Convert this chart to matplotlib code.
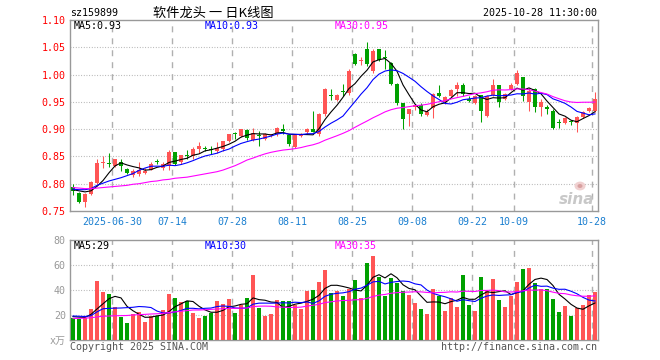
import matplotlib
matplotlib.use('Agg')
import matplotlib.pyplot as plt
from matplotlib.patches import Ellipse
import numpy as np
import pandas as pd

# ---------------- data ----------------
opens = [0.794, 0.783, 0.766, 0.782, 0.802, 0.838, 0.838, 0.833, 0.839, 0.827,
         0.816, 0.818, 0.820, 0.826, 0.841, 0.829, 0.833, 0.858, 0.839, 0.852,
         0.851, 0.863, 0.865, 0.863, 0.860, 0.863, 0.879, 0.892, 0.888, 0.898,
         0.880, 0.889, 0.882, 0.889, 0.892, 0.901, 0.889, 0.868, 0.888, 0.894,
         0.900, 0.891, 0.927, 0.963, 0.954, 0.969, 0.966, 1.038, 1.024, 1.047,
         1.007, 1.047, 1.033, 1.022, 0.982, 0.947, 0.927, 0.941, 0.945, 0.926,
         0.938, 0.967, 0.950, 0.960, 0.974, 0.980, 0.956, 0.948, 0.962, 0.925,
         0.962, 0.980, 0.956, 0.974, 0.982, 0.996, 0.949, 0.974, 0.940, 0.941,
         0.934, 0.912, 0.911, 0.914, 0.911, 0.922, 0.934, 0.934]
closes = [0.786, 0.766, 0.782, 0.804, 0.838, 0.839, 0.837, 0.845, 0.832, 0.819,
          0.824, 0.825, 0.824, 0.837, 0.840, 0.836, 0.858, 0.836, 0.852, 0.851,
          0.864, 0.870, 0.864, 0.862, 0.866, 0.879, 0.891, 0.891, 0.900, 0.884,
          0.893, 0.888, 0.891, 0.890, 0.903, 0.897, 0.872, 0.889, 0.891, 0.901,
          0.895, 0.927, 0.974, 0.960, 0.963, 0.968, 1.007, 1.019, 1.027, 1.019,
          1.044, 1.027, 1.030, 0.982, 0.948, 0.918, 0.937, 0.945, 0.928, 0.931,
          0.964, 0.960, 0.958, 0.972, 0.980, 0.964, 0.952, 0.961, 0.934, 0.961,
          0.980, 0.949, 0.964, 0.980, 1.003, 0.961, 0.970, 0.940, 0.950, 0.936,
          0.902, 0.911, 0.920, 0.913, 0.922, 0.931, 0.938, 0.956]
highs = [0.800, 0.784, 0.783, 0.805, 0.845, 0.851, 0.856, 0.846, 0.845, 0.828,
         0.827, 0.839, 0.828, 0.839, 0.845, 0.839, 0.862, 0.858, 0.852, 0.862,
         0.868, 0.876, 0.869, 0.869, 0.876, 0.879, 0.892, 0.895, 0.900, 0.901,
         0.903, 0.897, 0.893, 0.892, 0.904, 0.909, 0.891, 0.890, 0.893, 0.903,
         0.933, 0.929, 0.976, 0.974, 0.965, 0.983, 1.010, 1.040, 1.032, 1.059,
         1.047, 1.047, 1.045, 1.023, 0.985, 0.948, 0.937, 0.946, 0.948, 0.937,
         0.967, 0.980, 0.961, 0.973, 0.987, 0.985, 0.960, 0.962, 0.963, 0.962,
         0.991, 0.980, 0.966, 0.984, 1.009, 0.996, 0.976, 0.976, 0.955, 0.944,
         0.937, 0.919, 0.922, 0.917, 0.924, 0.933, 0.940, 0.968]
lows = [0.779, 0.765, 0.757, 0.780, 0.800, 0.829, 0.830, 0.830, 0.823, 0.818,
        0.813, 0.815, 0.817, 0.825, 0.836, 0.825, 0.825, 0.834, 0.836, 0.845,
        0.845, 0.857, 0.860, 0.855, 0.857, 0.860, 0.876, 0.882, 0.885, 0.881,
        0.879, 0.869, 0.880, 0.886, 0.888, 0.891, 0.869, 0.866, 0.886, 0.891,
        0.894, 0.888, 0.924, 0.953, 0.952, 0.961, 0.963, 1.017, 1.018, 1.016,
        1.003, 1.025, 1.010, 0.980, 0.945, 0.901, 0.905, 0.935, 0.925, 0.925,
        0.920, 0.958, 0.946, 0.958, 0.961, 0.960, 0.949, 0.946, 0.913, 0.922,
        0.960, 0.940, 0.953, 0.971, 0.980, 0.952, 0.934, 0.931, 0.925, 0.928,
        0.901, 0.902, 0.909, 0.908, 0.895, 0.920, 0.931, 0.931]
volumes = [18.0, 16.5, 17.3, 24.8, 47.5, 38.7, 36.8, 26.7, 18.7, 13.9,
           20.8, 22.7, 14.7, 19.2, 19.2, 24.0, 36.8, 33.9, 30.7, 31.2,
           21.3, 18.0, 19.2, 21.3, 31.2, 28.8, 32.8, 21.9, 28.0, 33.6,
           52.0, 26.0, 19.5, 20.8, 32.0, 31.2, 31.2, 28.0, 25.0, 39.0,
           40.0, 46.4, 56.0, 37.3, 39.2, 35.2, 40.5, 48.0, 33.3, 61.9,
           67.2, 50.7, 35.2, 49.9, 45.9, 39.2, 36.0, 29.9, 24.8, 20.8,
           40.8, 35.5, 23.2, 33.3, 26.4, 52.0, 28.0, 23.2, 50.4, 39.2,
           48.8, 32.0, 26.4, 35.5, 46.4, 56.8, 57.6, 45.9, 40.8, 40.8,
           32.8, 22.4, 27.2, 19.5, 25.9, 28.0, 36.0, 38.7]
# moving-average values at the start of the window (their history lies
# before the first visible day)
ma5_head = [0.789, 0.787, 0.785, 0.787]
ma10_head = [0.790, 0.789, 0.789, 0.791, 0.797, 0.801, 0.805, 0.808, 0.811]
ma30_head = [0.793, 0.792, 0.791, 0.791, 0.792, 0.793, 0.794, 0.795, 0.796,
             0.797, 0.799, 0.800, 0.802, 0.804, 0.805, 0.807, 0.808, 0.810,
             0.811, 0.812, 0.814, 0.816, 0.818, 0.820, 0.822, 0.825, 0.829,
             0.833, 0.838]
vma5_head = [18.7, 18.3, 18.0, 20.5]
vma10_head = [19.2, 19.0, 18.8, 19.5, 22.5, 25.0, 25.3, 25.5, 25.6]
vma30_head = [17.3, 17.3, 17.5, 17.8, 18.5, 19.0, 19.2, 19.4, 19.5, 19.6,
              20.0, 20.3, 20.5, 20.8, 21.0, 21.3, 22.0, 22.5, 23.0, 23.5,
              24.0, 24.0, 24.2, 24.5, 24.8, 25.0, 25.3, 25.3, 25.5]
tick_idx = [7, 17, 27, 37, 47, 57, 67, 74, 87]
tick_labels = ['2025-06-30', '07-14', '07-28', '08-11', '08-25',
               '09-08', '09-22', '10-09', '10-28']
price_ticks = [0.75, 0.80, 0.85, 0.90, 0.95, 1.00, 1.05, 1.10]
vol_ticks = [20, 40, 60, 80]

# ---------------- style ----------------
RED = '#ff5555'
GREEN = '#00a000'
GRID = '#b0b0b0'
SPINE = '#999999'
MONO = 'DejaVu Sans Mono'
FS = 7.2
W, H = 660, 360

o = np.array(opens); c = np.array(closes)
hi = np.array(highs); lo = np.array(lows); v = np.array(volumes)
x = np.arange(len(o))
up = c >= o
cols = np.where(up, RED, GREEN)


def moving(series, n, head):
    m = pd.Series(series).rolling(n).mean().to_numpy()
    m[:len(head)] = head
    return m


fig = plt.figure(figsize=(W / 100, H / 100), dpi=100)
ax = fig.add_axes([70 / W, 1 - 211 / H, 528 / W, 191 / H])
axv = fig.add_axes([70 / W, 1 - 340 / H, 528 / W, 100 / H])

# candles
ax.vlines(x, lo, hi, colors=cols, lw=0.75, zorder=3)
body_h = np.maximum(np.abs(c - o), 0.0016)
ax.bar(x, body_h, bottom=np.minimum(o, c), width=0.8, color=cols,
       linewidth=0, zorder=3)

ax.plot(x, moving(c, 5, ma5_head), color='black', lw=0.8, zorder=4)
ax.plot(x, moving(c, 10, ma10_head), color='#0000ff', lw=0.8, zorder=4)
ax.plot(x, moving(c, 30, ma30_head), color='#ff00ff', lw=0.8, zorder=4)

# volume
axv.bar(x, v, width=0.8, color=cols, linewidth=0, zorder=3)
axv.plot(x, moving(v, 5, vma5_head), color='black', lw=0.8, zorder=4)
axv.plot(x, moving(v, 10, vma10_head), color='#0000ff', lw=0.8, zorder=4)
axv.plot(x, moving(v, 30, vma30_head), color='#ff00ff', lw=0.8, zorder=4)

for a in (ax, axv):
    a.set_xlim(-0.5, len(o) - 0.5)
    for s in a.spines.values():
        s.set_color(SPINE)
        s.set_linewidth(1.0)
    for t in tick_idx:
        a.axvline(t - 0.5, color=GRID, lw=1.0, dashes=(4.3, 4.3), zorder=1)
    a.tick_params(length=0)

ax.set_ylim(0.75, 1.10)
for p in price_ticks[1:-1]:
    ax.axhline(p, color=GRID, lw=0.8, dashes=(0.8, 1.6), zorder=1)
ax.set_yticks(price_ticks)
ax.set_yticklabels(['%.2f' % p for p in price_ticks], color='#ff0000',
                   family=MONO, fontsize=FS)
ax.set_xticks([t - 0.5 for t in tick_idx])
ax.set_xticklabels(tick_labels, color='#1a7fd0', family=MONO, fontsize=FS)
ax.tick_params(axis='y', pad=3)
ax.tick_params(axis='x', pad=4)

axv.set_ylim(0, 80)
for p in vol_ticks[:-1]:
    axv.axhline(p, color=GRID, lw=0.8, dashes=(0.8, 1.6), zorder=1)
axv.set_yticks([0] + vol_ticks)
axv.set_yticklabels(['x万'] + [str(t) for t in vol_ticks], color='#999999',
                    family=[MONO, 'Noto Sans CJK SC'], fontsize=FS)
axv.tick_params(axis='y', pad=3)
axv.set_xticks([])


# texts
def ftext(px, py, s, **kw):
    kw.setdefault('family', MONO)
    kw.setdefault('fontsize', FS)
    kw.setdefault('va', 'center')
    fig.text(px / W, 1 - py / H, s, **kw)


ftext(70, 13, 'sz159899', ha='left')
ftext(213, 13, '软件龙头 一 日K线图', ha='center',
      family=['Noto Sans CJK SC', 'DejaVu Sans'], fontsize=9.5)
ftext(597, 13, '2025-10-28 11:30:00', ha='right')

ftext(74, 26, 'MA5:0.93', ha='left', color='black')
ftext(205, 26, 'MA10:0.93', ha='left', color='#0000ff')
ftext(335, 26, 'MA30:0.95', ha='left', color='#ff00ff')

ftext(74, 246, 'MA5:29', ha='left', color='black')
ftext(205, 246, 'MA10:30', ha='left', color='#0000ff')
ftext(335, 246, 'MA30:35', ha='left', color='#ff00ff')

ftext(70, 347, 'Copyright 2025 SINA.COM', ha='left', color='#555555')
ftext(597, 347, 'http://finance.sina.com.cn', ha='right', color='#555555')

# sina watermark: small eye logo plus word
for rw, fc in ((11, '#f0d0d0'), (5, '#d8a0a0')):
    fig.add_artist(Ellipse((580 / W, 1 - 186 / H), rw / W, rw * 0.8 / H,
                           facecolor=fc, edgecolor='none',
                           transform=fig.transFigure, zorder=5))
ftext(577, 200, 'sina', ha='center', color='#c8c8c8', family='DejaVu Sans',
      fontsize=11, style='italic', weight='bold')

fig.savefig('out.png', dpi=100)
